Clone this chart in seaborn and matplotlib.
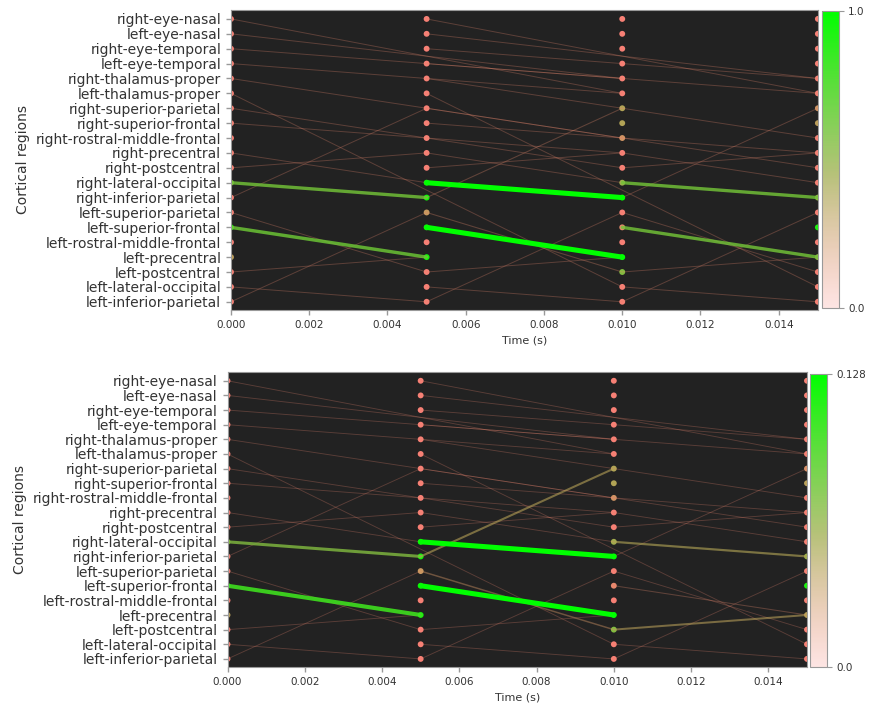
import numpy as np
import pandas as pd
import seaborn as sns
import matplotlib
matplotlib.use('Agg')
import matplotlib.pyplot as plt
from matplotlib.colors import LinearSegmentedColormap, Normalize
from matplotlib.collections import LineCollection
from matplotlib.cm import ScalarMappable

sns.set_style('ticks')
plt.rcParams['font.family'] = ['DejaVu Sans']

regions = ['right-eye-nasal', 'left-eye-nasal', 'right-eye-temporal', 'left-eye-temporal',
           'right-thalamus-proper', 'left-thalamus-proper', 'right-superior-parietal',
           'right-superior-frontal', 'right-rostral-middle-frontal', 'right-precentral',
           'right-postcentral', 'right-lateral-occipital', 'right-inferior-parietal',
           'left-superior-parietal', 'left-superior-frontal', 'left-rostral-middle-frontal',
           'left-precentral', 'left-postcentral', 'left-lateral-occipital', 'left-inferior-parietal']
times = [0.0, 0.005, 0.010, 0.015]

# directed edges: source region -> target region, lag in time steps
edge_src = [0, 1, 2, 3, 4, 5, 6, 7, 9, 10, 11, 12, 13, 14, 17, 18, 19]
edge_dst = [5, 4, 4, 5, 8, 18, 10, 9, 11, 9, 12, 6, 17, 16, 16, 19, 13]
edge_lag = [2, 2, 2, 2, 2, 2, 2, 2, 1, 1, 1, 1, 1, 1, 1, 1, 1]

# edge weight for every start step (len = 4 - lag)
top_edge_w = [[0.08, 0.08], [0.08, 0.08], [0.08, 0.08], [0.08, 0.08], [0.08, 0.08],
              [0.08, 0.08], [0.08, 0.08], [0.08, 0.08], [0.08, 0.08, 0.08],
              [0.08, 0.08, 0.08], [0.6, 1.0, 0.6], [0.08, 0.1, 0.08], [0.08, 0.1, 0.08],
              [0.62, 1.0, 0.6], [0.08, 0.08, 0.08], [0.08, 0.08, 0.08], [0.08, 0.08, 0.08]]
bottom_edge_w = [[0.008, 0.008], [0.008, 0.008], [0.008, 0.008], [0.008, 0.008], [0.008, 0.008],
                 [0.008, 0.008], [0.008, 0.008], [0.008, 0.008], [0.008, 0.008, 0.008],
                 [0.008, 0.008, 0.008], [0.07, 0.128, 0.045], [0.008, 0.042, 0.008],
                 [0.008, 0.025, 0.008], [0.1, 0.128, 0.012], [0.008, 0.008, 0.04],
                 [0.008, 0.008, 0.008], [0.008, 0.008, 0.008]]

# node values per time step (20 regions each)
top_node_v = [
    [0, 0, 0, 0, 0, 0, 0, 0, 0, 0, 0, 0.55, 0, 0, 0.9, 0, 0.3, 0, 0, 0],
    [0, 0, 0, 0, 0, 0, 0, 0, 0, 0, 0, 0.9, 0.95, 0.25, 0.9, 0, 0.95, 0, 0, 0],
    [0, 0, 0, 0, 0, 0, 0.35, 0.35, 0.2, 0, 0, 0.45, 1.0, 0, 0.1, 0, 1.0, 0.55, 0, 0],
    [0, 0, 0, 0, 0, 0, 0.2, 0.3, 0, 0, 0, 0, 0.5, 0, 0.9, 0, 0.5, 0, 0, 0],
]
bottom_node_v = [
    [0, 0, 0, 0, 0, 0, 0, 0, 0, 0, 0, 0.07, 0, 0, 0.115, 0, 0.04, 0, 0, 0],
    [0, 0, 0, 0, 0, 0, 0, 0, 0, 0, 0, 0.115, 0.12, 0.03, 0.115, 0, 0.12, 0, 0, 0],
    [0, 0, 0, 0, 0, 0, 0.045, 0.045, 0.025, 0, 0, 0.055, 0.128, 0, 0.01, 0, 0.128, 0.07, 0, 0],
    [0, 0, 0, 0, 0, 0, 0.02, 0.04, 0, 0, 0, 0, 0.06, 0, 0.115, 0, 0.04, 0, 0, 0],
]

low_rgb = (0.97, 0.50, 0.46)
mid_rgb = (0.62, 0.68, 0.30)
high_rgb = (0.0, 1.0, 0.0)
edge_cmap = LinearSegmentedColormap.from_list(
    'edge', [(0.0, low_rgb + (0.2,)), (0.45, mid_rgb + (0.75,)), (1.0, high_rgb + (1.0,))])
node_cmap = LinearSegmentedColormap.from_list(
    'node', [(0.0, low_rgb), (0.45, mid_rgb), (1.0, high_rgb)])


def draw_panel(ax, cax, edge_w, node_v, vmax, cbar_labels):
    norm = Normalize(0, vmax)
    segs, vals = [], []
    for e in range(len(edge_src)):
        for k, w in enumerate(edge_w[e]):
            segs.append([(times[k], edge_src[e]), (times[k + edge_lag[e]], edge_dst[e])])
            vals.append(w)
    order = np.argsort(vals)
    segs = [segs[i] for i in order]
    vals = np.array(vals)[order]
    rel = vals / vmax

    nodes = pd.DataFrame({
        'time': np.repeat(times, len(regions)),
        'region': np.tile(np.arange(len(regions)), len(times)),
        'value': np.concatenate(node_v),
    })
    sns.scatterplot(data=nodes, x='time', y='region', hue='value', palette=node_cmap,
                    hue_norm=(0, vmax), s=18, edgecolor='none', legend=False, ax=ax, zorder=1)

    lc = LineCollection(segs, colors=edge_cmap(norm(vals)), linewidths=0.45 + 3.2 * rel,
                        capstyle='round', zorder=2)
    ax.add_collection(lc)

    ax.set_facecolor('#222222')
    ax.set_xlim(0, 0.015)
    ax.set_ylim(19.55, -0.6)
    ax.set_yticks(range(len(regions)))
    ax.set_yticklabels(regions, fontsize=10, color='#333333')
    xt = np.arange(0, 0.0141, 0.002)
    ax.set_xticks(xt)
    ax.set_xticklabels([f'{t:.3f}' for t in xt], fontsize=7.5, color='#333333')
    ax.set_xlabel('Time (s)', fontsize=8, color='#333333')
    ax.set_ylabel('Cortical regions', fontsize=10, color='#333333')
    ax.tick_params(color='#999999', length=3.5, width=1)
    for s in ax.spines.values():
        s.set_color('#999999')

    cb = plt.colorbar(ScalarMappable(norm=norm, cmap=edge_cmap), cax=cax, ticks=[0, vmax])
    cb.ax.set_yticklabels(cbar_labels, fontsize=7.5, color='#333333')
    cb.ax.tick_params(color='#999999', length=3.5)
    cb.outline.set_edgecolor('#999999')


fig = plt.figure(figsize=(8.71, 7.04), dpi=100)
ax1 = fig.add_axes([0.2652, 0.5597, 0.6738, 0.4261])
cax1 = fig.add_axes([0.9432, 0.5625, 0.0195, 0.4219])
ax2 = fig.add_axes([0.2612, 0.0526, 0.6653, 0.4190])
cax2 = fig.add_axes([0.9300, 0.0526, 0.0195, 0.4162])

draw_panel(ax1, cax1, top_edge_w, top_node_v, 1.0, ['0.0', '1.0'])
draw_panel(ax2, cax2, bottom_edge_w, bottom_node_v, 0.128, ['0.0', '0.128'])

fig.savefig('out.png', dpi=100)
